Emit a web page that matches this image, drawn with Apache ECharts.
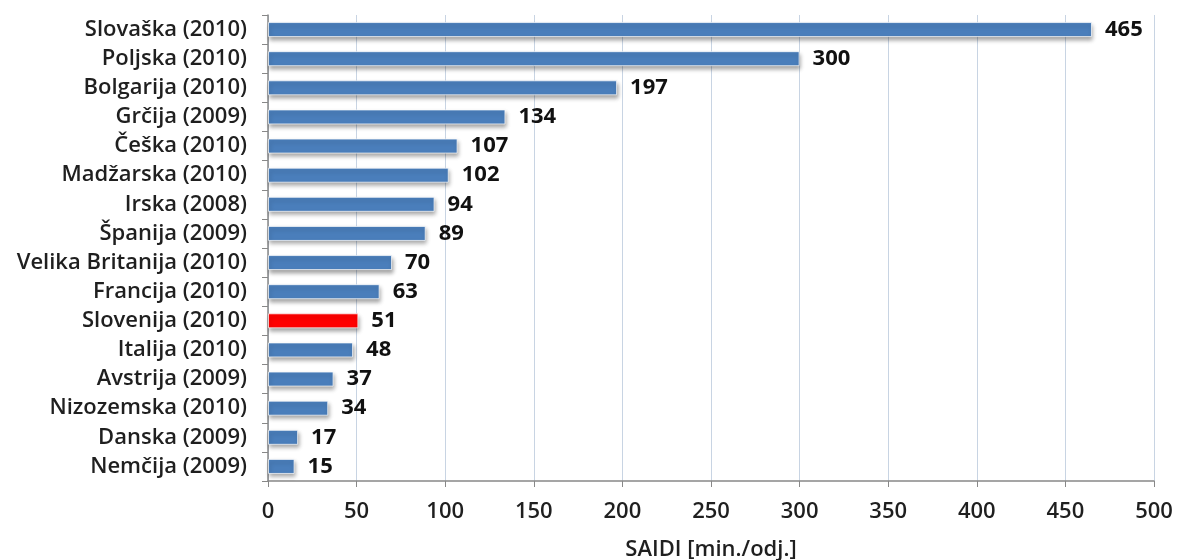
<!DOCTYPE html>
<html>
<head>
<meta charset="utf-8">
<script src="https://cdn.jsdelivr.net/npm/echarts@6/dist/echarts.min.js"></script>
<style>
  html, body { margin: 0; padding: 0; background: #fff; }
  #chart { width: 1178px; height: 560px; }
</style>
</head>
<body>
<div id="chart"></div>
<script>
const countries = [
  'Slovaška (2010)', 'Poljska (2010)', 'Bolgarija (2010)', 'Grčija (2009)',
  'Češka (2010)', 'Madžarska (2010)', 'Irska (2008)', 'Španija (2009)',
  'Velika Britanija (2010)', 'Francija (2010)', 'Slovenija (2010)', 'Italija (2010)',
  'Avstrija (2009)', 'Nizozemska (2010)', 'Danska (2009)', 'Nemčija (2009)'
]
const saidi = [465, 300, 197, 134, 107, 102, 94, 89, 70, 63, 51, 48, 37, 34, 17, 15]
const highlight = 'Slovenija (2010)'
const xTicks = [0, 50, 100, 150, 200, 250, 300, 350, 400, 450, 500]

const font = '"Open Sans", "DejaVu Sans", sans-serif'
const chart = echarts.init(document.getElementById('chart'), null, { renderer: 'canvas' })

chart.setOption({
  animation: false,
  backgroundColor: '#fff',
  grid: { left: 268, right: 24, top: 15, bottom: 79, outerBoundsMode: 'none', containLabel: false },
  xAxis: {
    type: 'value',
    min: xTicks[0],
    max: xTicks[xTicks.length - 1],
    interval: 50,
    name: 'SAIDI [min./odj.]',
    nameLocation: 'middle',
    nameGap: 58,
    nameTextStyle: { fontFamily: font, fontSize: 22, fontWeight: 600, color: '#1f1f1f' },
    axisLine: { show: true, lineStyle: { color: '#888', width: 1.5 } },
    axisTick: { show: true, length: 6, lineStyle: { color: '#888' } },
    axisLabel: { margin: 20, fontFamily: font, fontSize: 22, fontWeight: 600, color: '#1f1f1f' },
    splitLine: { show: true, lineStyle: { color: '#c8d4e3', width: 1 } }
  },
  yAxis: {
    type: 'category',
    data: countries,
    inverse: true,
    axisLine: { show: true, lineStyle: { color: '#888', width: 1.5 } },
    axisTick: { show: true, length: 6, lineStyle: { color: '#888' } },
    axisLabel: { margin: 21, fontFamily: font, fontSize: 22, fontWeight: 600, color: '#1f1f1f' }
  },
  series: [{
    type: 'bar',
    barWidth: 15,
    data: saidi.map((v, i) => ({
      value: v,
      itemStyle: { color: countries[i] === highlight ? '#ff0000' : '#4a7ebb' }
    })),
    itemStyle: {
      borderColor: 'rgba(255,255,255,0.7)',
      borderWidth: 1,
      shadowColor: 'rgba(0,0,0,0.35)',
      shadowBlur: 4,
      shadowOffsetX: 1,
      shadowOffsetY: 3
    },
    label: {
      show: true,
      position: 'right',
      distance: 13,
      fontFamily: font,
      fontSize: 22,
      fontWeight: 'bold',
      color: '#111'
    }
  }]
})
</script>
</body>
</html>
